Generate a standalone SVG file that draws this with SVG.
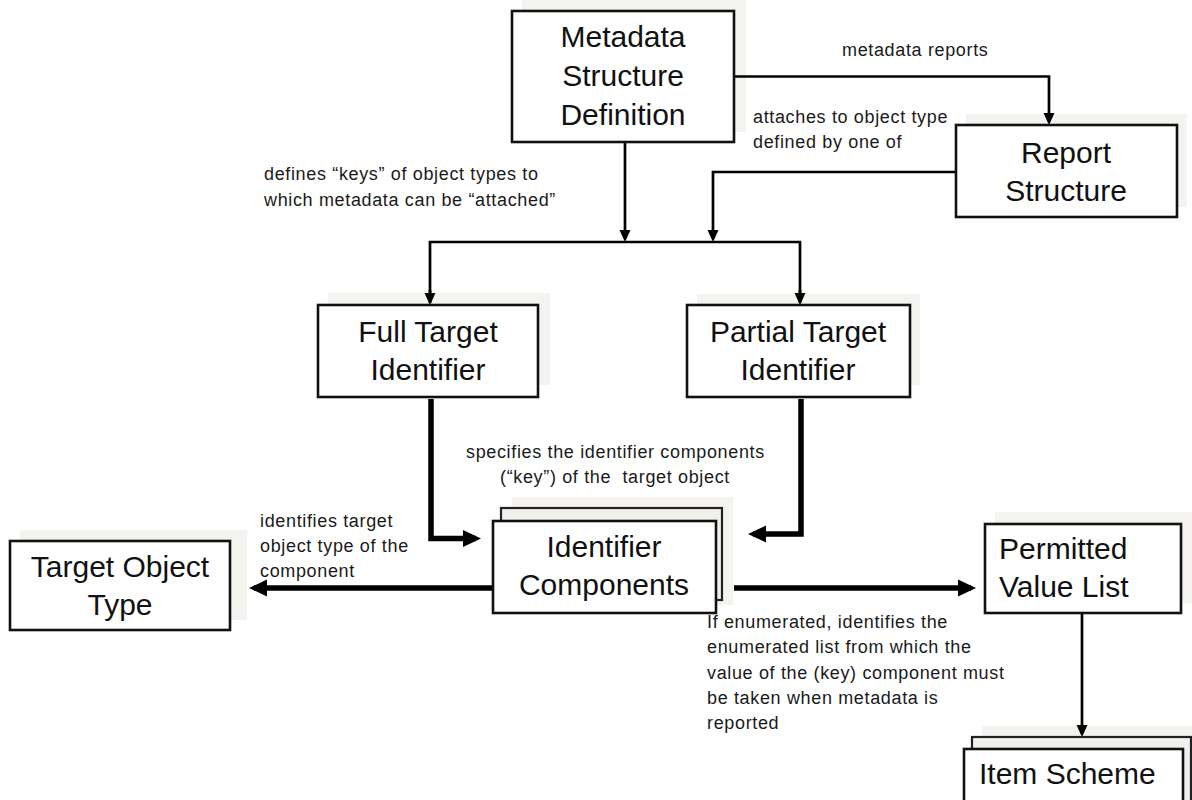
<svg xmlns="http://www.w3.org/2000/svg" width="1192" height="800" viewBox="0 0 1192 800">
  <style>
    .bg { fill: #ffffff; }
    .halo { fill: #f4f3ef; }
    .box { fill: #ffffff; stroke: #111111; stroke-width: 2.6; }
    .back { fill: #f1f0ec; stroke: #222222; stroke-width: 2.2; }
    .title { font-family: "Liberation Sans", Arial, sans-serif; font-size: 30px; fill: #111111; }
    .mid { text-anchor: middle; }
    .lbl { font-family: "Liberation Sans", Arial, sans-serif; font-size: 18px; letter-spacing: 0.65px; fill: #1a1a1a; }
    .thin { fill: none; stroke: #000000; stroke-width: 2.7; }
    .thick { fill: none; stroke: #000000; stroke-width: 5.5; }
  </style>
  <defs>
    <marker id="arrowThin" markerUnits="userSpaceOnUse" viewBox="0 0 12 12" refX="9" refY="6" markerWidth="12" markerHeight="12" orient="auto">
      <path d="M0,0.5 L12,6 L0,11.5 z" fill="#000000"/>
    </marker>
    <marker id="arrowThick" markerUnits="userSpaceOnUse" viewBox="0 0 18 18" refX="13" refY="9" markerWidth="18" markerHeight="18" orient="auto">
      <path d="M0,0.5 L18,9 L0,17.5 z" fill="#000000"/>
    </marker>
  </defs>

  <rect class="bg" x="0" y="0" width="1192" height="800"/>

  <!-- soft backdrop panels behind the boxes -->
  <g id="backdrops">
    <rect class="halo" x="522" y="0" width="224" height="132"/>
    <rect class="halo" x="966" y="114" width="221" height="93"/>
    <rect class="halo" x="328" y="293" width="222" height="92"/>
    <rect class="halo" x="697" y="294" width="223" height="91"/>
    <rect class="halo" x="512" y="497" width="221" height="108"/>
    <rect class="halo" x="20" y="530" width="227" height="90"/>
    <rect class="halo" x="995" y="512" width="197" height="91"/>
    <rect class="halo" x="982" y="726" width="210" height="74"/>
  </g>

  <g id="connectors">
    <!-- MSD to Report Structure -->
    <path class="thin" d="M734,76.5 H1049 V122" marker-end="url(#arrowThin)"/>
    <!-- MSD down to the distribution bar -->
    <path class="thin" d="M625,142 V239" marker-end="url(#arrowThin)"/>
    <!-- Report Structure down to the distribution bar -->
    <path class="thin" d="M956,172 H713 V239" marker-end="url(#arrowThin)"/>
    <!-- distribution bar to both target identifiers -->
    <path class="thin" d="M430,303 V242 H800 V303"/>
    <path class="thin" d="M430,290 V302" marker-end="url(#arrowThin)"/>
    <path class="thin" d="M800,290 V302" marker-end="url(#arrowThin)"/>
    <!-- target identifiers to identifier components -->
    <path class="thick" d="M431,399 V538.5 H476" marker-end="url(#arrowThick)"/>
    <path class="thick" d="M801,399 V534 H753" marker-end="url(#arrowThick)"/>
    <!-- identifier components to target object type -->
    <path class="thick" d="M493,588 H254" marker-end="url(#arrowThick)"/>
    <!-- identifier components to permitted value list -->
    <path class="thick" d="M734,588 H971" marker-end="url(#arrowThick)"/>
    <!-- permitted value list to item scheme -->
    <path class="thin" d="M1082,613 V734" marker-end="url(#arrowThin)"/>
  </g>

  <g id="labels">
    <text class="lbl" x="842" y="56">metadata reports</text>
    <text class="lbl" x="753" y="123">attaches to object type</text>
    <text class="lbl" x="753" y="148">defined by one of</text>
    <text class="lbl" x="264" y="180">defines “keys” of object types to</text>
    <text class="lbl" x="264" y="206">which metadata can be “attached”</text>
    <text class="lbl" x="466" y="458">specifies the identifier components</text>
    <text class="lbl" x="500" y="483" style="white-space:pre">(“key”) of the  target object</text>
    <text class="lbl" x="260" y="527">identifies target</text>
    <text class="lbl" x="260" y="552">object type of the</text>
    <text class="lbl" x="260" y="577">component</text>
    <text class="lbl" x="707" y="628">If enumerated, identifies the</text>
    <text class="lbl" x="707" y="653">enumerated list from which the</text>
    <text class="lbl" x="707" y="679">value of the (key) component must</text>
    <text class="lbl" x="707" y="704">be taken when metadata is</text>
    <text class="lbl" x="707" y="729">reported</text>
  </g>

  <g id="metadata-structure-definition">
    <rect class="box" x="512" y="11" width="222" height="131"/>
    <text class="title mid" x="623" y="47">Metadata</text>
    <text class="title mid" x="623" y="86">Structure</text>
    <text class="title mid" x="623" y="125">Definition</text>
  </g>

  <g id="report-structure">
    <rect class="box" x="956" y="125" width="221" height="92"/>
    <text class="title mid" x="1066" y="163">Report</text>
    <text class="title mid" x="1066" y="201">Structure</text>
  </g>

  <g id="full-target-identifier">
    <rect class="box" x="318" y="305" width="220" height="92"/>
    <text class="title mid" x="428" y="342">Full Target</text>
    <text class="title mid" x="428" y="380">Identifier</text>
  </g>

  <g id="partial-target-identifier">
    <rect class="box" x="687" y="305" width="223" height="92"/>
    <text class="title mid" x="798" y="342">Partial Target</text>
    <text class="title mid" x="798" y="380">Identifier</text>
  </g>

  <g id="identifier-components">
    <rect class="back" x="501" y="508" width="221" height="92"/>
    <rect class="box" x="493" y="521" width="223" height="92"/>
    <text class="title mid" x="604" y="557">Identifier</text>
    <text class="title mid" x="604" y="595">Components</text>
  </g>

  <g id="target-object-type">
    <rect class="box" x="10" y="541" width="220" height="89"/>
    <text class="title mid" x="120" y="577">Target Object</text>
    <text class="title mid" x="120" y="615">Type</text>
  </g>

  <g id="permitted-value-list">
    <rect class="box" x="985" y="524" width="196" height="89"/>
    <text class="title" x="999" y="559">Permitted</text>
    <text class="title" x="999" y="597">Value List</text>
  </g>

  <g id="item-scheme">
    <rect class="back" x="972" y="737" width="219" height="80"/>
    <rect class="box" x="964" y="749" width="219" height="70"/>
    <text class="title" x="979" y="784">Item Scheme</text>
  </g>
</svg>
